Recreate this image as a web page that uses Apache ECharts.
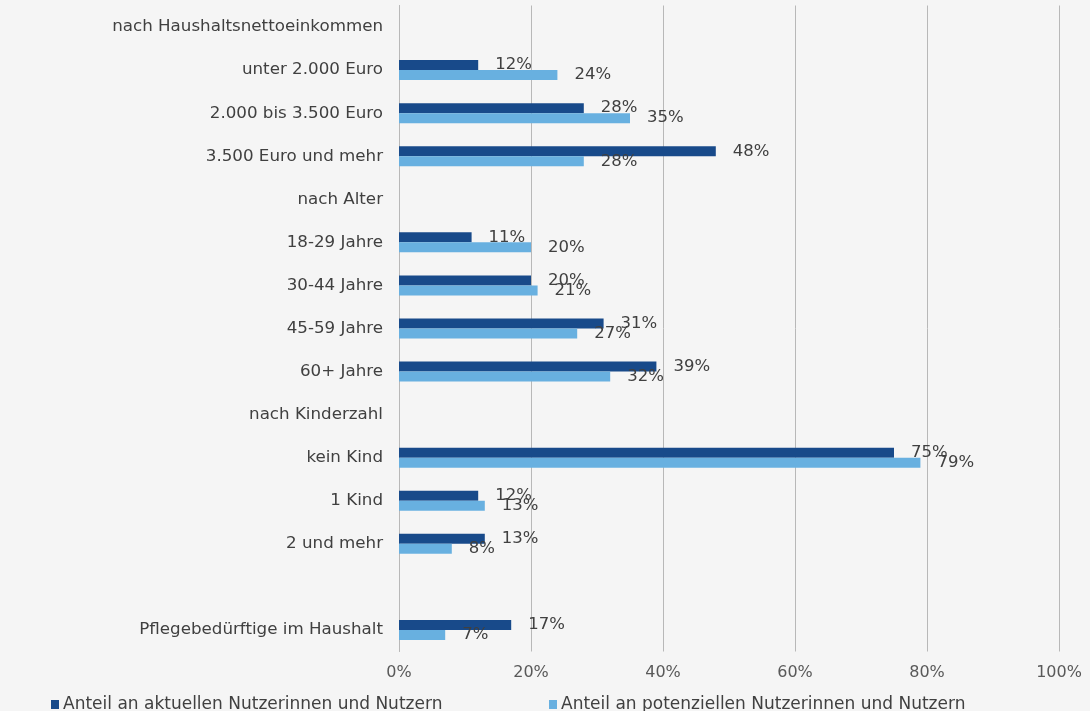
<!DOCTYPE html>
<html>
<head>
<meta charset="utf-8">
<script src="https://cdn.jsdelivr.net/npm/echarts@6/dist/echarts.min.js"></script>
<style>
html,body{margin:0;padding:0;background:#f5f5f5;}
#chart{width:1090px;height:711px;}
</style>
</head>
<body>
<div id="chart"></div>
<script>
const categories = [
  'nach Haushaltsnettoeinkommen',
  'unter 2.000 Euro',
  '2.000 bis 3.500 Euro',
  '3.500 Euro und mehr',
  'nach Alter',
  '18-29 Jahre',
  '30-44 Jahre',
  '45-59 Jahre',
  '60+ Jahre',
  'nach Kinderzahl',
  'kein Kind',
  '1 Kind',
  '2 und mehr',
  '',
  'Pflegebedürftige im Haushalt'
];
const seriesNames = [
  'Anteil an aktuellen Nutzerinnen und Nutzern',
  'Anteil an potenziellen Nutzerinnen und Nutzern'
];
const aktuell   = [null, 12, 28, 48, null, 11, 20, 31, 39, null, 75, 12, 13, null, 17];
const potenziell = [null, 24, 35, 28, null, 20, 21, 27, 32, null, 79, 13, 8, null, 7];
const xTicks = [0, 20, 40, 60, 80, 100];

const FONT = 'DejaVu Sans';
const TXT = '#404040';
const colors = ['#184a8a', '#68b0e0'];

const chart = echarts.init(document.getElementById('chart'), null, {renderer: 'canvas'});

function mkSeries(name, data, color) {
  return {
    name: name,
    type: 'bar',
    data: data,
    barWidth: 10,
    barGap: '0%',
    itemStyle: {color: color},
    label: {
      show: true,
      position: 'right',
      distance: 17,
      formatter: p => (p.value == null ? '' : p.value + '%'),
      color: TXT,
      fontFamily: FONT,
      fontSize: 16.5
    },
    animation: false
  };
}

chart.setOption({
  backgroundColor: '#f5f5f5',
  animation: false,
  textStyle: {fontFamily: FONT},
  grid: {left: 399, right: 31, top: 5.5, bottom: 59.5, containLabel: false},
  legend: [
    {
      data: [seriesNames[0]],
      left: 46, top: 691,
      icon: 'rect', itemWidth: 8, itemHeight: 9, itemGap: 4,
      textStyle: {fontFamily: FONT, fontSize: 17, color: TXT, padding: [0,0,0,-1]}
    },
    {
      data: [seriesNames[1]],
      left: 544, top: 691,
      icon: 'rect', itemWidth: 8, itemHeight: 9, itemGap: 4,
      textStyle: {fontFamily: FONT, fontSize: 17, color: TXT, padding: [0,0,0,-1]}
    }
  ],
  xAxis: {
    type: 'value',
    min: xTicks[0], max: xTicks[xTicks.length - 1], interval: 20,
    axisLine: {show: false},
    axisTick: {show: false},
    axisLabel: {
      formatter: '{value}%', color: '#595959', fontFamily: FONT, fontSize: 16, margin: 13
    },
    splitLine: {show: true, lineStyle: {color: '#b8b8b8', width: 1}}
  },
  yAxis: {
    type: 'category',
    data: categories,
    inverse: true,
    axisLine: {show: true, lineStyle: {color: '#b8b8b8', width: 1}},
    axisTick: {show: false},
    axisLabel: {color: TXT, fontFamily: FONT, fontSize: 16.7, margin: 16}
  },
  series: [
    mkSeries(seriesNames[0], aktuell, colors[0]),
    mkSeries(seriesNames[1], potenziell, colors[1])
  ]
});
</script>
</body>
</html>
